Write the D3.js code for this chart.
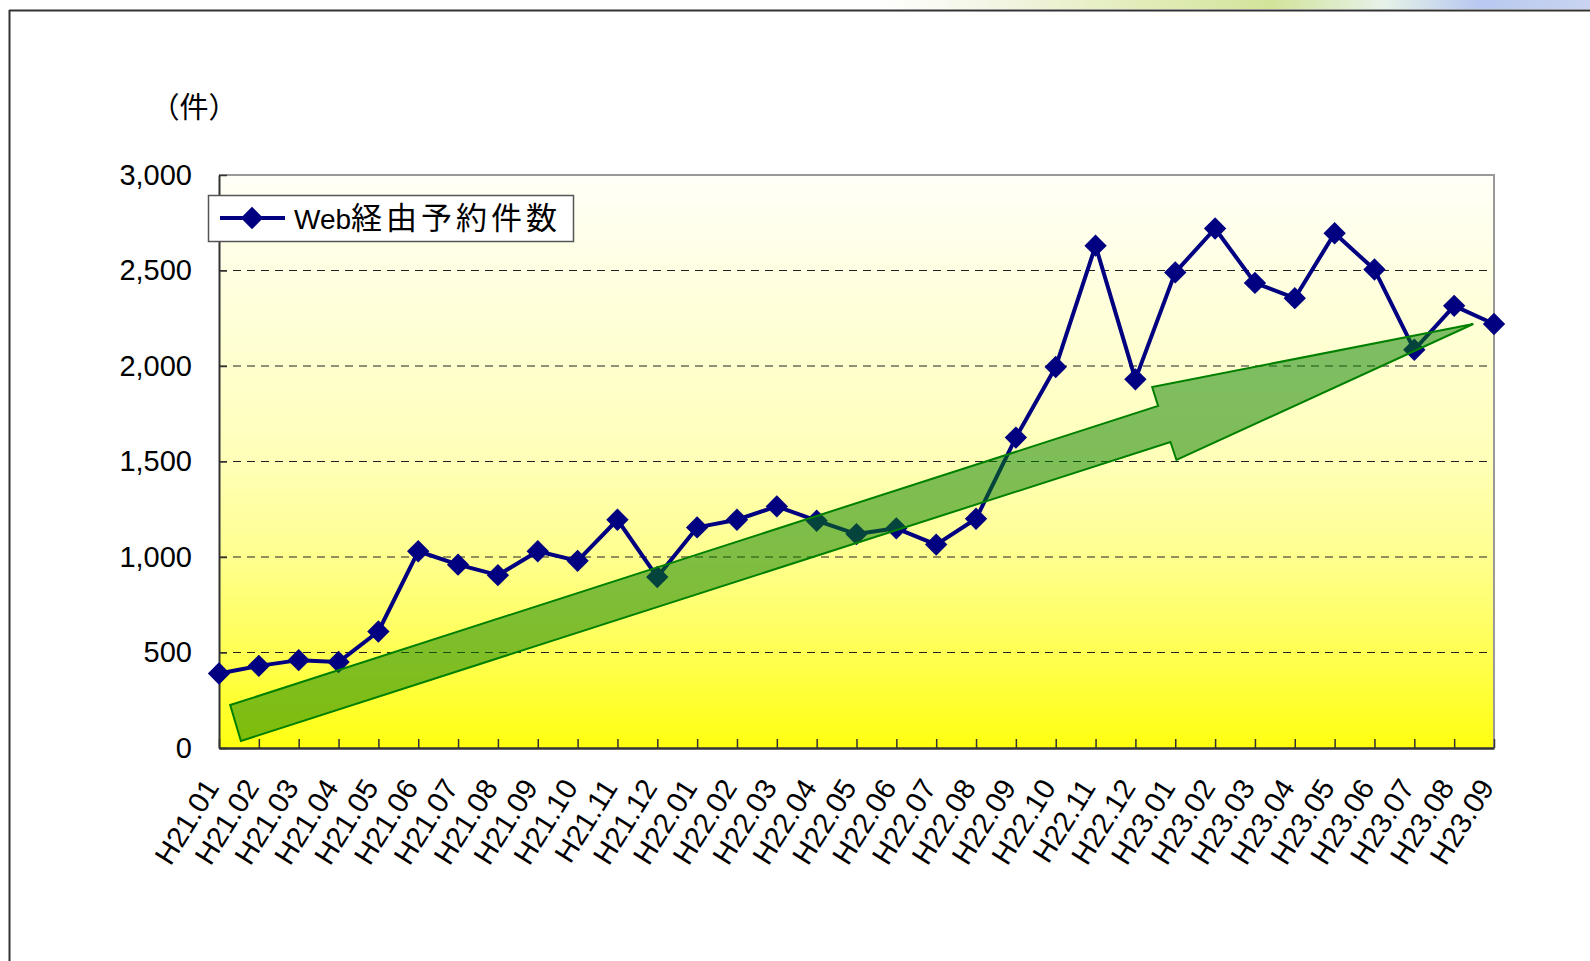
<!DOCTYPE html>
<html>
<head>
<meta charset="utf-8">
<script src="https://cdn.jsdelivr.net/npm/d3@7"></script>
<style>
  body { margin: 0; background: #fff; }
  svg { display: block; }
  .tick-label { font-family: "Liberation Sans", Arial, sans-serif; font-size: 29px; fill: #000; }
</style>
</head>
<body>
<svg id="chart" width="1590" height="961"></svg>
<script>
// months (H21.01 .. H23.09)
const months = [
  "H21.01","H21.02","H21.03","H21.04","H21.05","H21.06","H21.07","H21.08","H21.09","H21.10","H21.11","H21.12",
  "H22.01","H22.02","H22.03","H22.04","H22.05","H22.06","H22.07","H22.08","H22.09","H22.10","H22.11","H22.12",
  "H23.01","H23.02","H23.03","H23.04","H23.05","H23.06","H23.07","H23.08","H23.09"
];
// Web経由予約件数
const webBookings = [
  390, 430, 460, 450, 610, 1030, 960, 905, 1030, 980, 1195, 895,
  1155, 1195, 1265, 1190, 1120, 1150, 1065, 1200, 1625, 1995, 2630, 1930,
  2490, 2720, 2435, 2355, 2695, 2505, 2085, 2315, 2220
];
const yTicks = [0, 500, 1000, 1500, 2000, 2500, 3000];
const gridValues = [500, 1000, 1500, 2000, 2500];
const seriesName = "Web経由予約件数";
const unitLabel = "（件）";
// trend arrow outline in [month index, value] units
const arrowPoints = [
  [0.28, 225], [23.57, 1791], [23.42, 1890], [31.48, 2220],
  [24.03, 1508], [23.88, 1602], [0.55, 37]
];

const svg = d3.select("#chart");
const plot = { left: 219, right: 1494, top: 175, bottom: 748 };

const x = d3.scalePoint().domain(months).range([plot.left, plot.right]);
const y = d3.scaleLinear().domain([0, 3000]).range([plot.bottom, plot.top]);
const xAt = i => x(months[0]) + i * x.step();

const defs = svg.append("defs");

const bg = defs.append("linearGradient").attr("id", "plotBg")
  .attr("x1", 0).attr("y1", 0).attr("x2", 0).attr("y2", 1);
[[0, "#FFFFF8"], [0.5, "#FFFFB8"], [0.67, "#FFFF8E"], [0.83, "#FFFF55"], [1, "#FFFF10"]]
  .forEach(([o, c]) => bg.append("stop").attr("offset", o).attr("stop-color", c));

const band = defs.append("linearGradient").attr("id", "topBand")
  .attr("x1", 0).attr("y1", 0).attr("x2", 1).attr("y2", 0);
[[0, "#FFFFFF"], [0.55, "#FFFFFF"], [0.62, "#F4F6E6"], [0.72, "#E2ECB8"], [0.8, "#D2E49A"],
 [0.87, "#E6F2E8"], [0.93, "#B8C8F0"], [1, "#C8D4F0"]]
  .forEach(([o, c]) => band.append("stop").attr("offset", o).attr("stop-color", c));

// top decoration and frame
svg.append("rect").attr("x", 0).attr("y", 0).attr("width", 1590).attr("height", 9)
  .attr("fill", "url(#topBand)");
svg.append("line").attr("x1", 9).attr("x2", 1590).attr("y1", 10.5).attr("y2", 10.5)
  .attr("stroke", "#333").attr("stroke-width", 2);
svg.append("line").attr("x1", 9.5).attr("x2", 9.5).attr("y1", 10).attr("y2", 961)
  .attr("stroke", "#333").attr("stroke-width", 2);

// plot area
svg.append("rect")
  .attr("x", plot.left).attr("y", plot.top)
  .attr("width", plot.right - plot.left).attr("height", plot.bottom - plot.top)
  .attr("fill", "url(#plotBg)");

svg.append("g").selectAll("line").data(gridValues).join("line")
  .attr("x1", plot.left).attr("x2", plot.right)
  .attr("y1", d => y(d)).attr("y2", d => y(d))
  .attr("stroke", "#222").attr("stroke-width", 1.2)
  .attr("stroke-dasharray", "8,6");

svg.append("path")
  .attr("d", `M${plot.left},${y(3000)}H${plot.right}V${plot.bottom}`)
  .attr("fill", "none").attr("stroke", "#999").attr("stroke-width", 2);

// axes
const yAxis = svg.append("g")
  .attr("transform", `translate(${plot.left},0)`)
  .call(d3.axisLeft(y).tickValues(yTicks).tickFormat(d3.format(",")).tickSizeInner(-8).tickSizeOuter(0).tickPadding(27));
yAxis.select(".domain").attr("stroke", "#333").attr("stroke-width", 2);
yAxis.selectAll(".tick line").attr("stroke", "#333").attr("stroke-width", 1.5);
yAxis.selectAll("text").attr("class", "tick-label").attr("font-size", null).attr("font-family", null);

const xAxis = svg.append("g")
  .attr("transform", `translate(0,${plot.bottom})`)
  .call(d3.axisBottom(x).tickSizeInner(-9).tickSizeOuter(0));
xAxis.select(".domain").attr("stroke", "#333").attr("stroke-width", 2.5);
xAxis.selectAll(".tick line").attr("stroke", "#333").attr("stroke-width", 1.5);
xAxis.selectAll("text")
  .attr("class", "tick-label").attr("font-size", null).attr("font-family", null)
  .attr("x", 0).attr("y", 0).attr("dy", "0.35em")
  .attr("transform", "translate(-8,34) rotate(-58)")
  .attr("text-anchor", "end");

// series
const line = d3.line().x((d, i) => x(months[i])).y(d => y(d));
svg.append("path").datum(webBookings)
  .attr("d", line)
  .attr("fill", "none").attr("stroke", "#000080").attr("stroke-width", 4)
  .attr("stroke-linejoin", "round");

const diamond = d3.symbol(d3.symbolSquare, 250);
svg.append("g").selectAll("path").data(webBookings).join("path")
  .attr("d", diamond)
  .attr("transform", (d, i) => `translate(${x(months[i])},${y(d)}) rotate(45)`)
  .attr("fill", "#000080");

// trend arrow
svg.append("path")
  .datum(arrowPoints)
  .attr("d", d3.line().x(d => xAt(d[0])).y(d => y(d[1])).curve(d3.curveLinearClosed))
  .attr("fill", "#0A8000").attr("fill-opacity", 0.52)
  .attr("stroke", "#008000").attr("stroke-width", 2).attr("stroke-linejoin", "miter");

// unit label
svg.append("text")
  .attr("x", 194).attr("y", 108).attr("dy", "0.36em")
  .attr("text-anchor", "middle")
  .style("font-family", "'Noto Sans CJK JP', sans-serif").style("font-size", "29px")
  .text(unitLabel);

// legend
const legend = svg.append("g").attr("transform", "translate(208,195)");
legend.append("rect").attr("x", 0.5).attr("y", 0.5).attr("width", 365).attr("height", 46)
  .attr("fill", "#fff").attr("stroke", "#555").attr("stroke-width", 1.5);
legend.append("line").attr("x1", 12).attr("x2", 77).attr("y1", 23).attr("y2", 23)
  .attr("stroke", "#000080").attr("stroke-width", 4);
legend.append("path").attr("d", diamond)
  .attr("transform", "translate(44,23) rotate(45)").attr("fill", "#000080");
const legendText = legend.append("text").attr("x", 86).attr("y", 34);
legendText.append("tspan").style("font-family", "'Liberation Sans', Arial, sans-serif")
  .style("font-size", "28px").text(seriesName.slice(0, 3));
legendText.append("tspan").style("font-family", "'Noto Sans CJK JP', sans-serif")
  .style("font-size", "31px").style("letter-spacing", "4px").text(seriesName.slice(3));
</script>
</body>
</html>
